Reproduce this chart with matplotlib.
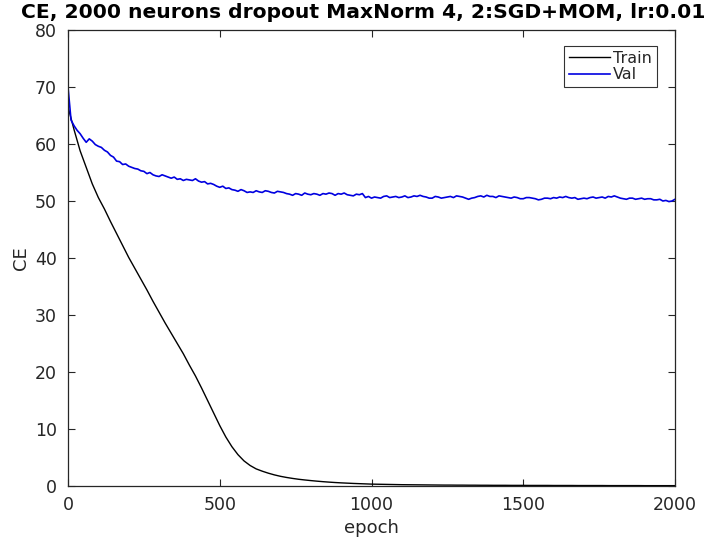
import matplotlib
matplotlib.use("Agg")
import matplotlib.pyplot as plt

title = "CE, 2000 neurons dropout MaxNorm 4, 2:SGD+MOM, lr:0.01"
x_label = "epoch"
y_label = "CE"
x_ticks = [0, 500, 1000, 1500, 2000]
y_ticks = [0, 10, 20, 30, 40, 50, 60, 70, 80]

train_epochs = list(range(0, 2001, 20))
train_ce = [
    66.5, 62.5, 58.8, 55.9, 53.0, 50.6, 48.6, 46.4, 44.3, 42.2,
    40.1, 38.2, 36.3, 34.4, 32.4, 30.5, 28.6, 26.8, 25.0, 23.2,
    21.2, 19.3, 17.2, 15.0, 12.8, 10.6, 8.6, 6.9, 5.5, 4.4,
    3.6, 3.0, 2.6, 2.25, 1.95, 1.7, 1.5, 1.33, 1.18, 1.06,
    0.95, 0.85, 0.76, 0.68, 0.61, 0.55, 0.5, 0.45, 0.41, 0.37,
    0.33, 0.31, 0.29, 0.27, 0.25, 0.23, 0.22, 0.21, 0.2, 0.19,
    0.18, 0.17, 0.16, 0.16, 0.15, 0.15, 0.14, 0.14, 0.13, 0.13,
    0.12, 0.12, 0.12, 0.11, 0.11, 0.11, 0.1, 0.1, 0.1, 0.1,
    0.09, 0.09, 0.09, 0.09, 0.08, 0.08, 0.08, 0.08, 0.08, 0.07,
    0.07, 0.07, 0.07, 0.07, 0.07, 0.06, 0.06, 0.06, 0.06, 0.06,
    0.06,
]

val_epochs = list(range(0, 2001, 10))
val_ce = [
    70.0, 64.2, 63.2, 62.4, 61.8, 61.0, 60.3, 60.9, 60.5, 59.9,
    59.6, 59.4, 58.9, 58.6, 58.0, 57.7, 57.0, 56.9, 56.4, 56.5,
    56.1, 55.9, 55.7, 55.6, 55.3, 55.2, 54.8, 55.0, 54.6, 54.4,
    54.3, 54.6, 54.4, 54.2, 54.0, 54.2, 53.8, 53.9, 53.6, 53.8,
    53.7, 53.6, 53.9, 53.5, 53.3, 53.4, 53.0, 53.1, 52.9, 52.6,
    52.4, 52.6, 52.2, 52.3, 52.0, 51.9, 51.7, 52.0, 51.8, 51.5,
    51.6, 51.5, 51.8, 51.6, 51.5, 51.8, 51.7, 51.5, 51.4, 51.7,
    51.6, 51.5, 51.3, 51.2, 51.0, 51.3, 51.2, 51.0, 51.4, 51.2,
    51.1, 51.3, 51.2, 51.0, 51.3, 51.2, 51.4, 51.3, 51.0, 51.3,
    51.2, 51.4, 51.1, 51.0, 50.9, 51.2, 51.1, 51.3, 50.6, 50.8,
    50.5, 50.7, 50.6, 50.5, 50.8, 50.9, 50.6, 50.7, 50.8, 50.6,
    50.7, 50.9, 50.6, 50.7, 50.9, 50.8, 51.0, 50.8, 50.7, 50.5,
    50.5, 50.8, 50.7, 50.5, 50.6, 50.7, 50.8, 50.6, 50.9, 50.8,
    50.7, 50.5, 50.3, 50.5, 50.6, 50.8, 50.9, 50.7, 51.0, 50.8,
    50.8, 50.6, 50.9, 50.8, 50.7, 50.6, 50.5, 50.7, 50.6, 50.4,
    50.4, 50.6, 50.6, 50.5, 50.4, 50.2, 50.3, 50.5, 50.5, 50.4,
    50.6, 50.5, 50.7, 50.6, 50.8, 50.6, 50.5, 50.6, 50.3, 50.4,
    50.5, 50.4, 50.6, 50.7, 50.5, 50.6, 50.7, 50.5, 50.8, 50.7,
    50.9, 50.7, 50.5, 50.4, 50.3, 50.5, 50.5, 50.3, 50.4, 50.5,
    50.3, 50.4, 50.4, 50.2, 50.2, 50.3, 50.0, 50.1, 49.9, 50.0,
    50.3,
]

W, H = 720, 538
fig = plt.figure(figsize=(W / 100, H / 100), dpi=100)
ax = fig.add_axes([68 / W, 52 / H, 607 / W, 456 / H])

ax.plot(train_epochs, train_ce, color="black", lw=1.0, label="Train")
ax.plot(val_epochs, val_ce, color="#0000e0", lw=1.2, label="Val")

ax.set_xlim(0, 2000)
ax.set_ylim(0, 80)
ax.set_xticks(x_ticks)
ax.set_yticks(y_ticks)

axcol = "#262626"
for s in ax.spines.values():
    s.set_color(axcol)
    s.set_linewidth(0.9)
ax.tick_params(direction="in", length=5, width=0.8, colors=axcol,
               labelsize=12.5, top=True, right=True, pad=7)
ax.tick_params(axis="y", pad=8)

ax.set_xlabel(x_label, fontsize=13, color=axcol)
ax.set_ylabel(y_label, fontsize=13, color=axcol)
ax.xaxis.set_label_coords(0.5, -0.092)
ax.yaxis.set_label_coords(-0.078, 0.5)
ax.xaxis.label.set_va("center")
ax.yaxis.label.set_va("center")

fig.text(363 / W, 1 - 18 / H, title, ha="center", va="baseline",
         fontsize=14.6, fontweight="bold", color="black")

leg = ax.legend(loc="upper right", bbox_to_anchor=(1 - 18 / 607, 1 - 16 / 456),
                borderaxespad=0, fontsize=11.5, frameon=True, fancybox=False,
                handlelength=2.6, handletextpad=0.2, borderpad=0.3,
                labelspacing=0.1)
leg.get_frame().set_edgecolor("black")
leg.get_frame().set_linewidth(0.8)
for t in leg.get_texts():
    t.set_color(axcol)

fig.savefig("out.png", dpi=100)
